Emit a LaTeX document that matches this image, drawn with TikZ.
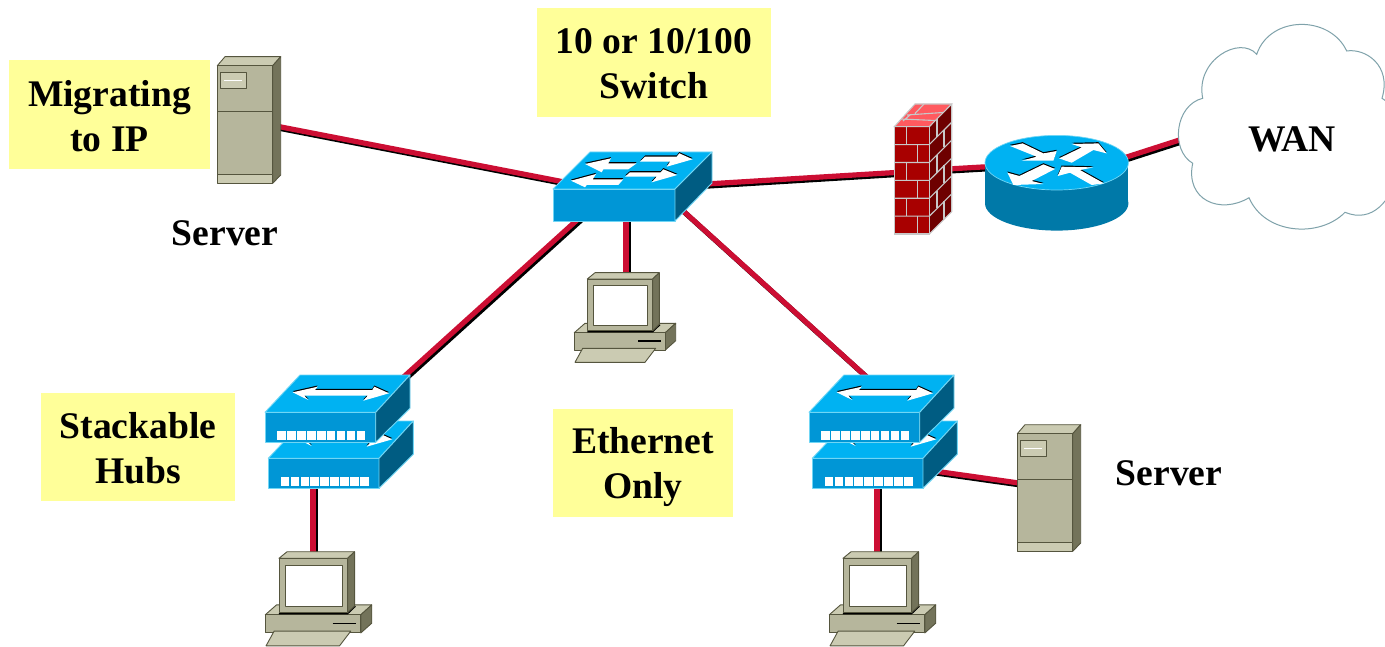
\documentclass[tikz,border=0pt]{standalone}
\usepackage{fontspec}
\setmainfont{Liberation Serif}
\usepackage{xcolor}
\usetikzlibrary{calc}
\definecolor{noteyellow}{HTML}{FFFF99}
\definecolor{cablered}{HTML}{CC0E33}
\definecolor{swtop}{HTML}{00B2F2}
\definecolor{swfront}{HTML}{0096D6}
\definecolor{swside}{HTML}{005C82}
\definecolor{swedge}{HTML}{70D6F5}
\definecolor{rtside}{HTML}{0079A8}
\definecolor{boxfront}{HTML}{B6B69C}
\definecolor{boxtop}{HTML}{CBCBB2}
\definecolor{boxside}{HTML}{73735A}
\definecolor{boxedge}{HTML}{55553E}
\definecolor{brickfront}{HTML}{A80000}
\definecolor{bricktop}{HTML}{FF5A5F}
\definecolor{brickside}{HTML}{6E0000}
\definecolor{mortar}{HTML}{C8C8C8}
\definecolor{cloudedge}{HTML}{7FA2AA}
\newcommand{\notestrut}[1]{\rule{0pt}{#1pt}}
\newcommand{\whitearrow}[1]{\fill [black, shift={(0,-1.2)}] #1; \fill [white] #1;}
\newcommand{\cable}[2]{%
    \draw [cableshadow] ($(#1)+(2,2)$) -- ($(#2)+(2,2)$);
    \draw [cabletop] (#1) -- (#2);}
\newcommand{\hubunit}[1]{%
    \begin{scope}[shift={#1}]
        \filldraw [swbody, fill=swtop] (35,0) -- (145,0) -- (110.7,37.3) -- (0,37.3) -- cycle;
        \filldraw [swbody, fill=swfront] (0,37.3) rectangle (110.7,67.3);
        \filldraw [swbody, fill=swside] (110.7,37.3) -- (145,0) -- (145,33.3) -- (110.7,67.3) -- cycle;
        \whitearrow{(27.7,17.3) -- (52.7,11.7) -- (50,15) -- (107.3,15) -- (109.3,11.7) -- (124,18.3) -- (98.3,25.7) -- (102.7,20.7) -- (39.3,20.7) -- (43.3,25) -- cycle}
        \foreach \i in {0,...,8}
            \fill [white] (12.3+\i*9.95,56) rectangle ++(8.4,9.2);
    \end{scope}}
\tikzset{
    notebox/.style={rectangle, fill=noteyellow, align=center, inner sep=0pt, font=\fontsize{37.6}{45}\selectfont\bfseries},
    plainlabel/.style={align=center, inner sep=0pt, font=\fontsize{37.6}{45}\selectfont\bfseries},
    cabletop/.style={cablered, line width=5.2pt},
    cableshadow/.style={black, line width=5.2pt},
    swbody/.style={draw=swedge, line width=0.9pt, line join=round},
    grbody/.style={draw=boxedge, line width=0.9pt, line join=round},
    brick/.style={mortar, line width=1.1pt},
    serverpic/.pic={
        \filldraw [grbody, fill=boxtop] (0.3,9.7) -- (8,0.7) -- (63.7,0.7) -- (55.7,9.7) -- cycle;
        \filldraw [grbody, fill=boxside] (55.7,9.7) -- (63.7,0.7) -- (63.7,119) -- (55.7,127.3) -- cycle;
        \filldraw [grbody, fill=boxfront] (0.3,9.7) rectangle (55.7,118.3);
        \filldraw [grbody, fill=boxtop] (0.3,118.3) rectangle (55.7,127.3);
        \draw [boxedge, line width=1.1pt] (0.3,55.7) -- (55.7,55.7);
        \filldraw [grbody, fill=boxtop] (3,16.3) rectangle (29.7,32.3);
        \draw [white, line width=0.7pt] (7,24.3) -- (25.3,24.3);
    },
    switchpic/.pic={
        \filldraw [swbody, fill=swtop] (37,0) -- (159,0) -- (122,37) -- (0,37) -- cycle;
        \filldraw [swbody, fill=swfront] (0,37) rectangle (122,69);
        \filldraw [swbody, fill=swside] (122,37) -- (159,0) -- (159,31) -- (122,69) -- cycle;
        \whitearrow{(32,12) -- (58,6.3) -- (55.3,11.3) -- (83.7,11.3) -- (75.3,17.3) -- (50.3,17.3) -- (48.7,20.3) -- cycle}
        \whitearrow{(18,28.7) -- (43,22) -- (39.7,27.3) -- (70.3,27.3) -- (65.3,33) -- (33.7,33) -- (32,35.3) -- cycle}
        \whitearrow{(139.7,7.3) -- (126.3,1.3) -- (123.7,4.7) -- (92,4.7) -- (87,9.7) -- (117,9.7) -- (113.7,14.7) -- cycle}
        \whitearrow{(124.3,23) -- (110.3,17.3) -- (107.7,20.3) -- (77,20.3) -- (72,24.7) -- (103.7,24.7) -- (98.7,30.3) -- cycle}
    },
    pcpic/.pic={
        \filldraw [grbody, fill=boxtop] (0.3,60.7) -- (11,51.3) -- (101.7,51.3) -- (91.3,60.7) -- cycle;
        \filldraw [grbody, fill=boxside] (91.3,60.7) -- (101.7,51.3) -- (101.7,68.7) -- (91.3,78) -- cycle;
        \filldraw [grbody, fill=boxfront] (0.3,60.7) rectangle (91.3,78);
        \draw [black, line width=1.2pt] (64.3,69) -- (86.7,69);
        \draw [black, line width=1.4pt] (13.3,59.6) -- (78.7,59.6) -- (86,52.6);
        \filldraw [grbody, fill=boxtop] (13.3,7) -- (21,0.7) -- (85.3,0.7) -- (78.7,7) -- cycle;
        \filldraw [grbody, fill=boxside] (78.7,7) -- (85.3,0.7) -- (85.3,52.3) -- (78.7,58.7) -- cycle;
        \filldraw [grbody, fill=boxfront] (13.3,7) rectangle (78.7,58.7);
        \filldraw [grbody, fill=white] (19.3,13.3) rectangle (73.7,53);
        \filldraw [grbody, fill=boxtop] (8.7,76.3) -- (81.7,76.3) -- (71,90.3) -- (1,90.3) -- cycle;
    },
    hubpic/.pic={
        \hubunit{(3.3,46)}
        \hubunit{(0,0)}
    },
    wallpic/.pic={
        \fill [bricktop] (0.3,22.7) -- (21,0) -- (57.7,0) -- (35.3,22.7) -- cycle;
        \fill [brickside] (35.3,22.7) -- (57.7,0) -- (57.7,107.7) -- (35.3,130) -- cycle;
        \fill [brickfront] (0.3,22.7) rectangle (35.3,130);
        % mortar on the top
        \draw [brick] (0.3,22.7) -- (21,0) -- (57.7,0) -- (35.3,22.7) -- cycle;
        \draw [brick] (13,11) -- (49,8.5) (7,15) -- (41,16.5) (30,0) -- (21,9.5) (16,11) -- (9,17);
        % mortar on the front and the side
        \draw [brick] (0.3,22.7) rectangle (35.3,130);
        \foreach \r in {1,...,5} {
            \draw [brick] (0.3,22.7+\r*17.9) -- (35.3,22.7+\r*17.9) -- (57.7,0.4+\r*17.9);
        }
        \foreach \r in {0,2,4} {
            \draw [brick] (12.7,22.7+\r*17.9) -- ++(0,17.9);
            \draw [brick] (23.7,40.6+\r*17.9) -- ++(0,17.9);
            \draw [brick] (43,15+\r*17.9) -- ++(0,17.9);
            \draw [brick] (50,25.6+\r*17.9) -- ++(0,17.9);
        }
        \draw [brick] (57.7,0) -- (57.7,107.7) -- (35.3,130);
    },
    routerpic/.pic={
        \fill [rtside] (0,40.6) ellipse [x radius=71.7pt, y radius=27.3pt];
        \fill [rtside] (-71.7,0) rectangle (71.7,40.6);
        \filldraw [swedge, line width=0.7pt, fill=swtop] (0,0) ellipse [x radius=71.7pt, y radius=27.3pt];
        \whitearrow{(-46.7,-16.7) -- (-34,-19.3) -- (-13.3,-9.3) -- (0,-11.7) -- (-3.3,-2) -- (-35,-2) -- (-20,-6) -- cycle}
        \whitearrow{(1,13.3) -- (5,4) -- (36.7,4.7) -- (23.3,7.3) -- (47.3,20.7) -- (35,22.3) -- (13.3,10) -- cycle}
        \whitearrow{(15,-18.7) -- (41.7,-19.3) -- (50,-9.3) -- (36.7,-12.7) -- (15,0) -- (2.3,-4.3) -- (25,-15.3) -- cycle}
        \whitearrow{(-13.3,21.3) -- (-43.3,22.3) -- (-49.3,10) -- (-37.3,13.3) -- (-13.3,1.7) -- (-1.7,6.3) -- (-25,18.3) -- cycle}
    },
}
\begin{document}
\begin{tikzpicture}[x=1pt, y=-1pt]
    \useasboundingbox (0,0) rectangle (1385,647);
    \clip (0,0) rectangle (1385,647);
    \fill [white] (0,0) rectangle (1385,647);
    % Cable ends, hidden behind the devices
    \coordinate (srvLw) at (245,120);
    \coordinate (swW) at (590,187);
    \coordinate (swE) at (690,185);
    \coordinate (swSw) at (587,211);
    \coordinate (swS) at (626,210);
    \coordinate (swSe) at (660,190);
    \coordinate (wallW) at (920,171);
    \coordinate (wallE) at (930,170);
    \coordinate (rtW) at (1000,166);
    \coordinate (rtE) at (1100,165.6);
    \coordinate (wanW) at (1195,135);
    \coordinate (hubLn) at (387,392);
    \coordinate (hubLs) at (313,470);
    \coordinate (hubRn) at (880,389);
    \coordinate (hubRs) at (877,470);
    \coordinate (hubRe) at (920,469);
    \coordinate (srvRw) at (1040,486);
    \coordinate (pcMn) at (626,290);
    \coordinate (pcLn) at (313,570);
    \coordinate (pcRn) at (877,570);
    % Cables
    \cable{srvLw}{swW}
    \cable{swE}{wallW}
    \cable{wallE}{rtW}
    \cable{rtE}{wanW}
    \cable{swSw}{hubLn}
    \cable{swS}{pcMn}
    \cable{swSe}{hubRn}
    \cable{hubLs}{pcLn}
    \cable{hubRs}{pcRn}
    \cable{hubRe}{srvRw}
    % Devices
    \pic at (217,56) {serverpic};
    \pic at (1017,424) {serverpic};
    \pic at (553,152) {switchpic};
    \pic at (574,272) {pcpic};
    \pic [scale=1.05] at (265,551) {pcpic};
    \pic [scale=1.05] at (829,551) {pcpic};
    \pic at (265,375) {hubpic};
    \pic at (809,375) {hubpic};
    \pic at (894,104) {wallpic};
    \pic at (1056.7,162.7) {routerpic};
    % WAN cloud
    \filldraw [draw=cloudedge, fill=white, line width=1pt] (1192.7,163.3)
        .. controls (1170,150) and (1175,105) .. (1202.7,98.3)
        .. controls (1195,60) and (1240,35) .. (1256.7,54.3)
        .. controls (1270,15) and (1330,15) .. (1346.7,51)
        .. controls (1365,48) and (1392,65) .. (1382,98.3)
        .. controls (1420,120) and (1400,235) .. (1345,212.3)
        .. controls (1320,238) and (1265,235) .. (1249,197.7)
        .. controls (1220,215) and (1185,200) .. (1192.7,163.3) -- cycle;
    % Labels
    \node [plainlabel] (wan) at (1292,139) {WAN};
    \node [plainlabel] (srvLlabel) at (225,233) {Server};
    \node [plainlabel] (srvRlabel) at (1169,473) {Server};
    \node [notebox, minimum width=201pt, minimum height=109pt] (migrate) at (109.5,114.5) {\notestrut{30}Migrating\\to IP};
    \node [notebox, minimum width=234pt, minimum height=109pt] (swnote) at (654,62.5) {\notestrut{28}10 or 10/100\\Switch};
    \node [notebox, minimum width=194pt, minimum height=108pt] (hubnote) at (138,447) {\notestrut{29}Stackable\\Hubs};
    \node [notebox, minimum width=180pt, minimum height=108pt] (ethnote) at (643,463) {\notestrut{34}Ethernet\\Only};
\end{tikzpicture}
\end{document}
